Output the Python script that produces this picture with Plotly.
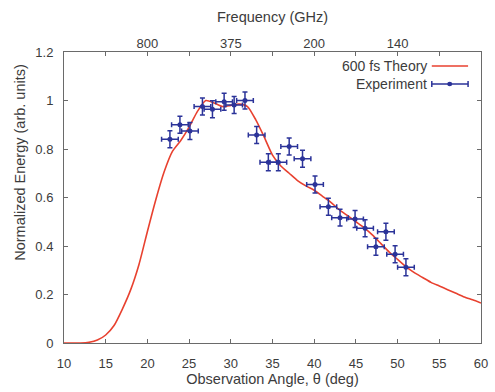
import plotly.graph_objects as go

# Theory curve (600 fs)
theory_angle = [10, 12, 13, 14, 15, 16, 17, 18, 19, 20, 21, 22, 23, 24, 25, 26, 27, 28, 29, 30,
                31, 32, 33, 34, 35, 36, 37, 38, 39, 40, 41, 42, 43, 44, 45, 46, 47, 48, 49, 50,
                51, 52, 53, 54, 55, 56, 57, 58, 59, 60]
theory_energy = [0, 0, 0.003, 0.012, 0.033, 0.072, 0.14, 0.22, 0.325, 0.46, 0.59, 0.705, 0.79, 0.835,
                 0.89, 0.955, 1.0, 0.99, 0.975, 0.98, 0.985, 0.975, 0.92, 0.85, 0.775, 0.73, 0.70,
                 0.67, 0.648, 0.63, 0.605, 0.58, 0.55, 0.525, 0.50, 0.475, 0.445, 0.41, 0.375,
                 0.345, 0.315, 0.29, 0.27, 0.25, 0.235, 0.22, 0.205, 0.19, 0.178, 0.165]

# Experiment
exp_angle = [22.7, 23.9, 25.1, 26.6, 27.8, 29.2, 30.4, 31.7, 33.1, 34.5, 35.7, 37.0, 38.6,
             40.1, 41.7, 43.1, 44.9, 46.1, 47.4, 48.6, 49.7, 51.0]
exp_energy = [0.84, 0.90, 0.874, 0.975, 0.964, 0.995, 0.981, 1.0, 0.858, 0.745, 0.745, 0.81,
              0.76, 0.654, 0.562, 0.517, 0.511, 0.473, 0.397, 0.459, 0.366, 0.312]
exp_angle_err = [1.0] * len(exp_angle)
exp_energy_err = [0.035] * len(exp_angle)

bottom_ticks = [10, 15, 20, 25, 30, 35, 40, 45, 50, 55, 60]
top_tick_angles = [15, 20, 25, 30, 35, 40, 45, 50, 55]
top_tick_labels = ["", "800", "", "375", "", "200", "", "140", ""]
y_ticks = [0, 0.2, 0.4, 0.6, 0.8, 1.0, 1.2]
y_tick_labels = ["0", "0.2", "0.4", "0.6", "0.8", "1", "1.2"]

RED = "#e8412f"
BLUE = "#2b3399"
AX = "#6a6a6a"
TXT = "#3c3c3c"
FONT = "Liberation Sans, Arial, sans-serif"
TICK_SIZE = 13
TITLE_SIZE = 14.5
LEG_SIZE = 14

fig = go.Figure()
fig.add_trace(go.Scatter(x=theory_angle, y=theory_energy, mode="lines", name="600 fs Theory",
                         line=dict(color=RED, width=1.6, shape="spline", smoothing=0.6),
                         showlegend=False))
fig.add_trace(go.Scatter(x=exp_angle, y=exp_energy, mode="markers", name="Experiment",
                         marker=dict(color=BLUE, size=5),
                         error_x=dict(type="data", array=exp_angle_err, color=BLUE, thickness=1.5, width=2.5),
                         error_y=dict(type="data", array=exp_energy_err, color=BLUE, thickness=1.5, width=2.5),
                         showlegend=False))
# invisible trace to carry the top (frequency) axis
fig.add_trace(go.Scatter(x=theory_angle, y=theory_energy, mode="lines", xaxis="x2",
                         line=dict(width=0), opacity=0, hoverinfo="skip", showlegend=False))

fig.update_layout(
    width=495, height=392,
    margin=dict(l=64, r=7, t=52, b=49),
    paper_bgcolor="white", plot_bgcolor="white",
    font=dict(family=FONT, size=TICK_SIZE, color=TXT),
    xaxis=dict(range=[10, 60], tickvals=bottom_ticks, ticks="inside", ticklen=4,
               tickcolor=AX, showline=True, linecolor=AX, linewidth=1, mirror=True,
               showgrid=False, zeroline=False, ticklabelstandoff=8, ticklabeloverflow="allow",
               title=dict(text="Observation Angle, θ (deg)", standoff=4, font=dict(size=TITLE_SIZE))),
    xaxis2=dict(range=[10, 60], overlaying="x", side="top", tickvals=top_tick_angles,
                ticktext=top_tick_labels, ticks="inside", ticklen=4, tickcolor=AX,
                showline=False, showgrid=False, zeroline=False,
                title=dict(text="Frequency (GHz)", standoff=10, font=dict(size=TITLE_SIZE))),
    yaxis=dict(range=[0, 1.2], tickvals=y_ticks, ticktext=y_tick_labels,
               ticks="inside", ticklen=4, tickcolor=AX, showline=True, linecolor=AX, linewidth=1,
               mirror="ticks", showgrid=False, zeroline=False, ticklabelstandoff=7),
)

# Y-axis title (placed slightly above centre, as in the original)
fig.add_annotation(x=-0.106, y=0.622, xref="paper", yref="paper", text="Normalized Energy (arb. units)",
                   textangle=-90, showarrow=False, xanchor="center", yanchor="middle",
                   font=dict(size=TITLE_SIZE, color=TXT))

# Legend (text right-aligned, sample on the right, as in the original)
fig.add_annotation(x=0.875, y=0.952, xref="paper", yref="paper", text="600 fs Theory",
                   showarrow=False, xanchor="right", yanchor="middle", font=dict(size=LEG_SIZE, color=TXT))
fig.add_annotation(x=0.875, y=0.89, xref="paper", yref="paper", text="Experiment",
                   showarrow=False, xanchor="right", yanchor="middle", font=dict(size=LEG_SIZE, color=TXT))
fig.add_shape(type="line", xref="paper", yref="paper", x0=0.882, x1=0.969, y0=0.952, y1=0.952,
              line=dict(color=RED, width=1.6))
fig.add_shape(type="line", xref="paper", yref="paper", x0=0.882, x1=0.969, y0=0.89, y1=0.89,
              line=dict(color=BLUE, width=1.5))
for xe in (0.882, 0.969):
    fig.add_shape(type="line", xref="paper", yref="paper", x0=xe, x1=xe, y0=0.88, y1=0.90,
                  line=dict(color=BLUE, width=1.5))
fig.add_shape(type="circle", xref="paper", yref="paper", x0=0.919, x1=0.931, y0=0.882, y1=0.898,
              fillcolor=BLUE, line=dict(color=BLUE, width=0))

fig.write_html("out.html")
